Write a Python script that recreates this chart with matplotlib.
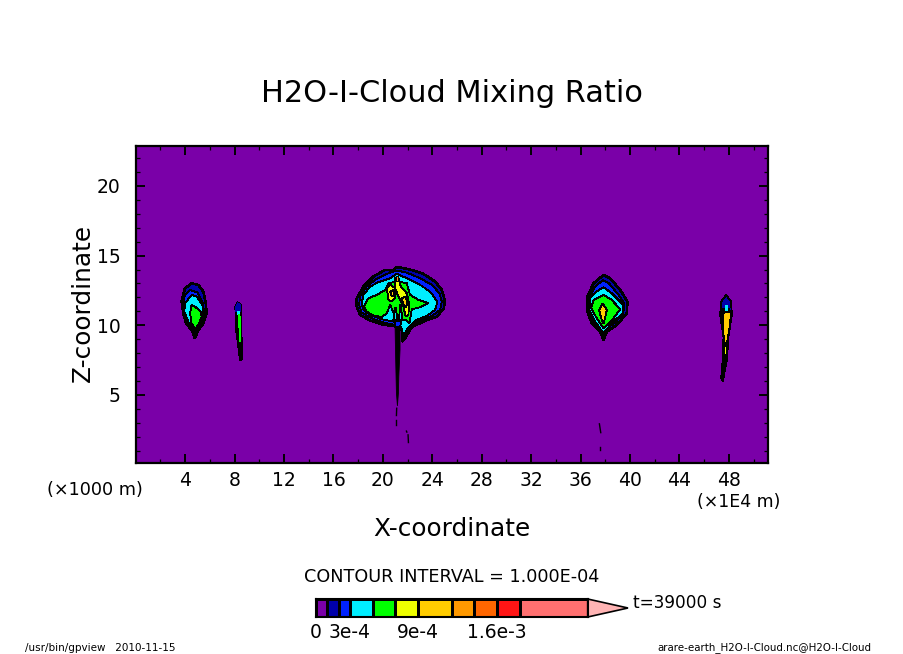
import matplotlib
matplotlib.use("Agg")
import matplotlib.pyplot as plt
from matplotlib.colors import BoundaryNorm, ListedColormap
from matplotlib.ticker import MultipleLocator
import numpy as np

# ---- colour levels (contour interval and shaded classes) ----
levels = [0, 1e-4, 2e-4, 3e-4, 5e-4, 7e-4, 9e-4, 12e-4, 14e-4, 16e-4, 18e-4, 24e-4]
colors = ["#7A00A8", "#0000AA", "#0022FF", "#00EEFF", "#00FF00", "#EEFF00",
          "#FFCC00", "#FF9900", "#FF6600", "#FF1515", "#FF7070"]
over_colour = "#FFB4B4"
cbar_ticks = [0, 3e-4, 9e-4, 16e-4]
cbar_labels = ["0", "3e-4", "9e-4", "1.6e-3"]
cbar_tip = 27.56e-4

xticks = [4, 8, 12, 16, 20, 24, 28, 32, 36, 40, 44, 48]
zticks = [5, 10, 15, 20]

# ---- isolines: (colour class index, [(x, z), ...]) ----
cloud_left = [
    (1, [(4.53,13.01),(5.07,12.89),(5.48,12.41),(5.67,11.58),(5.75,10.86),(5.48,10.14),(5.07,9.66),(4.80,9.06),(4.53,9.66),(4.07,10.14),(3.86,10.86),(3.72,11.70),(3.99,12.65)]),
    (2, [(4.40,12.54),(5.0,12.35),(5.4,11.7),(5.55,10.9),(5.35,10.2),(5.0,9.75),(4.80,9.3),(4.55,9.8),(4.15,10.3),(3.95,10.9),(3.85,11.6),(4.0,12.2)]),
    (3, [(4.53,12.18),(4.94,12.06),(5.48,11.34),(5.48,10.74),(5.15,10.02),(4.80,9.42),(4.26,10.26),(3.94,10.98),(3.99,11.58)]),
    (4, [(4.53,11.46),(4.80,11.34),(5.26,10.98),(5.34,10.62),(5.07,10.02),(4.80,9.71),(4.53,10.14),(4.40,10.86)]),
]
cloud_thin = [
    (0, [(8.25,11.65),(8.50,11.46),(8.52,9.90),(8.63,8.23),(8.63,7.56),(8.44,7.51),(8.31,8.47),(8.09,9.90),(8.07,11.34)]),
    (1, [(8.27,11.6),(8.47,11.45),(8.47,11.0),(8.12,11.0),(8.12,11.35)]),
    (3, [(8.24,11.0),(8.40,11.0),(8.42,10.8),(8.28,10.8)]),
    (4, [(8.31,10.74),(8.44,10.74),(8.50,8.95),(8.42,8.80)]),
]
cloud_main = [
    (1, [(21.12,14.17),(21.53,14.12),(22.34,13.97),(23.28,13.69),(24.23,13.14),(24.77,12.54),(25.01,11.82),(24.95,11.22),(24.36,10.62),(23.28,10.27),(22.34,9.86),(21.80,9.07),(21.58,8.83),(21.53,9.67),(21.39,9.86),(20.99,9.95),(20.05,10.03),(18.97,10.34),(18.16,10.74),(17.89,11.34),(17.89,11.94),(18.43,12.78),(19.24,13.50),(20.18,13.97),(20.85,13.93)]),
    (2, [(21.12,13.93),(21.93,13.78),(23.01,13.38),(23.96,12.90),(24.58,12.30),(24.77,11.70),(24.63,11.10),(23.96,10.67),(23.01,10.34),(22.20,9.91),(21.66,9.14),(21.53,9.79),(20.99,10.03),(20.05,10.19),(19.10,10.50),(18.29,10.91),(18.08,11.46),(18.16,12.06),(18.70,12.78),(19.37,13.26),(20.32,13.69)]),
    (3, [(21.12,13.69),(21.93,13.38),(23.01,12.90),(23.82,12.42),(24.41,11.70),(24.23,11.10),(23.55,10.67),(22.61,10.34),(22.07,9.86),(21.66,9.24),(21.50,9.86),(20.85,10.27),(19.91,10.43),(18.97,10.74),(18.43,11.10),(18.29,11.58),(18.43,12.18),(18.97,12.78),(19.64,13.09),(20.59,13.38)]),
    (4, [(18.48,11.34),(18.83,11.94),(19.51,12.18),(20.18,12.54),(20.45,13.02),(21.12,13.14),(21.93,13.02),(22.20,12.18),(22.88,11.82),(23.69,11.58),(23.01,11.29),(22.34,11.15),(22.15,10.15),(21.85,10.38),(21.12,10.38),(20.59,11.46),(20.32,10.86),(19.91,10.58),(19.10,10.74),(18.70,10.98)]),
    (3, [(20.85,10.4),(21.02,11.3),(21.2,10.4)]),
    (3, [(21.3,10.4),(21.42,11.5),(21.6,10.4)]),
    (5, [(20.32,12.66),(20.59,12.90),(20.99,12.66),(20.99,11.94),(20.72,11.70),(20.45,11.82)]),
    (5, [(20.99,13.38),(21.26,13.38),(21.45,12.78),(21.93,12.30),(22.12,11.58),(22.07,10.74),(21.85,10.62),(21.66,11.34),(21.26,12.06),(20.99,12.66)]),
    (6, [(20.59,12.42),(20.85,12.54),(20.91,12.18),(20.72,12.06)]),
    (6, [(21.53,11.94),(21.80,12.06),(22.01,11.70),(21.88,11.29),(21.66,11.46)]),
    (7, [(21.05,13.55),(21.2,13.55),(21.2,13.2),(21.05,13.2)]),
    (2, [(20.99,10.3),(21.5,10.3),(21.39,9.86),(20.99,9.86)]),
]
cloud_right = [
    (1, [(37.85,13.61),(38.39,13.37),(39.20,12.54),(39.79,11.70),(39.73,10.86),(38.93,10.02),(38.12,9.55),(37.85,8.95),(37.58,9.55),(36.90,10.14),(36.50,11.10),(36.50,11.94),(37.04,13.01)]),
    (2, [(37.8,13.25),(38.3,13.0),(39.05,12.2),(39.55,11.55),(39.45,10.85),(38.8,10.2),(38.05,9.75),(37.85,9.2),(37.65,9.75),(37.0,10.3),(36.65,11.15),(36.65,11.85),(37.15,12.75)]),
    (3, [(37.85,12.73),(38.52,12.30),(39.46,11.46),(39.41,10.86),(38.52,10.14),(37.85,9.43),(37.17,10.26),(36.71,11.10),(36.77,11.94),(37.31,12.42)]),
    (4, [(37.85,12.18),(38.52,11.82),(39.20,11.15),(38.66,10.50),(37.85,9.78),(37.31,10.50),(36.85,11.22),(37.04,11.82)]),
    (6, [(37.79,11.58),(38.12,11.10),(37.98,10.50),(37.85,10.14),(37.66,10.50),(37.50,11.10)]),
]
cloud_far = [
    (1, [(47.77,12.18),(48.18,11.70),(48.23,10.74),(47.96,9.19),(47.83,7.51),(47.50,5.96),(47.37,6.20),(47.50,7.51),(47.56,9.19),(47.29,10.74),(47.37,11.70)]),
    (3, [(47.65,11.45),(47.95,11.45),(47.95,11.05),(47.65,11.05)]),
    (6, [(47.69,10.86),(48.04,10.86),(47.96,10.02),(47.74,8.83),(47.61,10.02)]),
    (5, [(47.70,8.42),(47.76,8.42),(47.76,7.94),(47.70,7.94)]),
]
far_dark = [(47.96,11.2),(48.23,10.74),(47.96,9.19),(47.83,7.51),(47.50,5.96),(47.37,6.20),(47.50,7.51),(47.56,9.19),(47.29,10.74),(47.50,11.2)]
stem_main = [(20.99,9.86),(21.39,9.86),(21.39,8.23),(21.29,6.32),(21.26,5.12),(21.18,4.21),(21.10,5.12),(21.04,7.51)]
fragments = [
    [(21.12,4.04),(21.10,3.52)],
    [(21.04,3.21),(21.04,2.82)],
    [(22.04,2.13),(22.07,1.58)],
    [(21.91,2.40),(21.94,2.33)],
    [(37.52,2.92),(37.63,2.29)],
    [(37.60,1.24),(37.60,1.05)],
]

W, H = 904, 654
fig = plt.figure(figsize=(W/100, H/100), dpi=100, facecolor="white")
plt.rcParams["font.family"] = "DejaVu Sans"

def pos(l, t, r, b):
    return [l/W, 1-b/H, (r-l)/W, (b-t)/H]

def ftext(x, y, s, **kw):
    fig.text(x/W, 1-y/H, s, ha=kw.pop("ha", "center"), va="center", color="black", **kw)

ax = fig.add_axes(pos(136, 146, 768, 463))
ax.set_facecolor(colors[0])
ax.set_xlim(0.03, 51.16)
ax.set_ylim(0.11, 22.87)

ax.fill(*zip(*stem_main), color="black", lw=0.6, zorder=2)
for cloud in (cloud_left, cloud_main, cloud_right):
    for n, (idx, outline) in enumerate(cloud):
        ax.fill(*zip(*outline), facecolor=colors[idx], edgecolor="black",
                lw=1.1 if n == 0 else 0.6, zorder=3, antialiased=False)
for cloud in (cloud_thin, cloud_far):
    ax.fill(*zip(*cloud[0][1]), facecolor="black", edgecolor="black", lw=0.6, zorder=3, antialiased=False)
    for idx, outline in cloud:
        if cloud is cloud_far and idx == 1:
            ax.fill(*zip(*outline), facecolor=colors[idx], edgecolor="black", lw=0.6, zorder=3, antialiased=False)
            ax.fill(*zip(*far_dark), facecolor="black", edgecolor="black", lw=0.6, zorder=3, antialiased=False)
        elif idx != 0:
            ax.fill(*zip(*outline), facecolor=colors[idx], edgecolor="none", zorder=3, antialiased=False)
for frag in fragments:
    ax.plot(*zip(*frag), color="black", lw=1.0, zorder=3)

ax.set_xticks(xticks)
ax.set_yticks(zticks)
ax.xaxis.set_minor_locator(MultipleLocator(2))
ax.yaxis.set_minor_locator(MultipleLocator(1))
ax.tick_params(which="major", direction="in", top=True, right=True, length=6.5, width=1.4, labelsize=13.5)
ax.tick_params(which="minor", direction="in", top=True, right=True, length=3.2, width=0.9)
ax.tick_params(axis="x", which="major", pad=6)
ax.tick_params(axis="y", which="major", pad=11)
for s in ax.spines.values():
    s.set_linewidth(1.6)

ftext(452, 93, "H2O-I-Cloud Mixing Ratio", fontsize=21.9)
ftext(452, 529, "X-coordinate", fontsize=17.8)
ftext(83, 303, "Z-coordinate", fontsize=17.8, rotation=90)
ftext(95, 490, "(×1000 m)", fontsize=12.7)
ftext(739, 502, "(×1E4 m)", fontsize=12.5)
ftext(452, 577, "CONTOUR INTERVAL = 1.000E-04", fontsize=12.7)
ftext(633, 603, "t=39000 s", fontsize=12.2, ha="left")
ftext(25, 648, "/usr/bin/gpview   2010-11-15", fontsize=7.5, ha="left")
ftext(657, 648, "arare-earth_H2O-I-Cloud.nc@H2O-I-Cloud", fontsize=7.4, ha="left")

# colour bar
cax = fig.add_axes(pos(316, 599, 587.7, 617))
cmap = ListedColormap(colors)
norm = BoundaryNorm(levels, cmap.N)
cax.pcolormesh(levels, [0, 1], np.array([levels[:-1]])*1.0 + 1e-6, cmap=cmap, norm=norm,
               edgecolor="black", linewidth=1.0)
cax.set_xlim(levels[0], levels[-1])
cax.set_ylim(0, 1)
cax.set_yticks([])
cax.set_xticks(cbar_ticks, cbar_labels)
cax.tick_params(axis="x", length=0, labelsize=13.5, pad=4)
for s in cax.spines.values():
    s.set_linewidth(1.5)
cax.fill([levels[-1], cbar_tip, levels[-1]], [0, 0.5, 1], facecolor=over_colour,
         edgecolor="black", lw=1.2, clip_on=False)

fig.savefig("out.png", dpi=100, facecolor="white")
